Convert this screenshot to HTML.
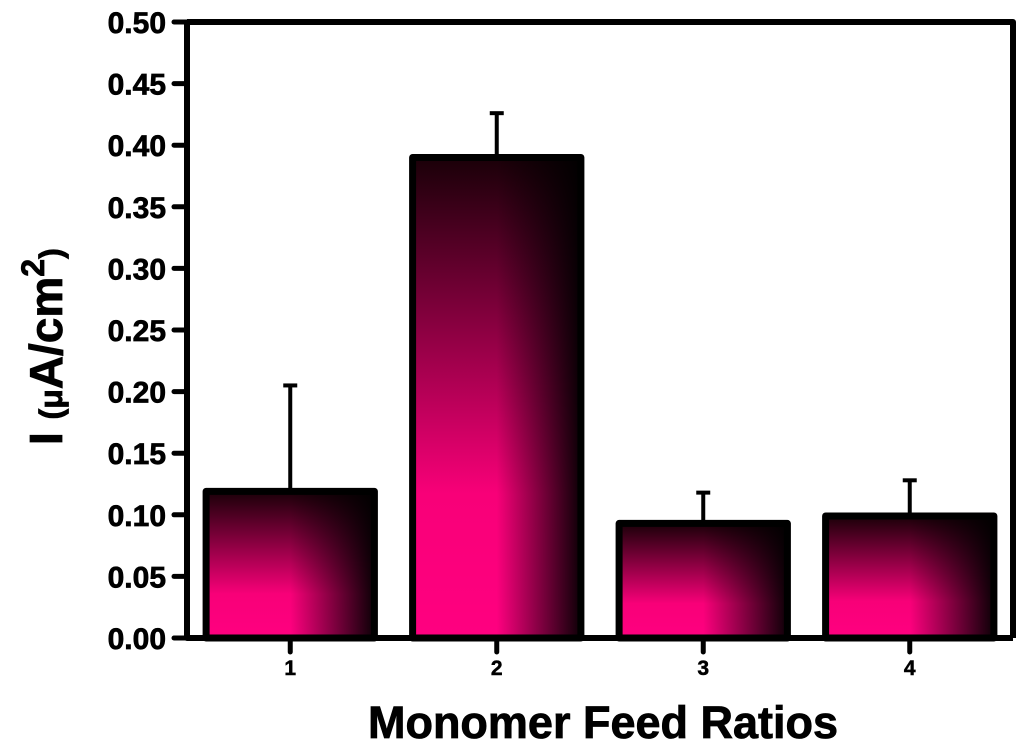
<!DOCTYPE html>
<html><head><meta charset="utf-8"><style>
html,body{margin:0;padding:0;background:#fff;}
svg{display:block;font-family:"Liberation Sans",Arial,sans-serif;font-weight:bold;}
</style></head><body>
<svg id="chart" width="1024" height="747" viewBox="0 0 1024 747" xmlns="http://www.w3.org/2000/svg">
<defs>
<linearGradient id="gv" x1="0" y1="1" x2="0" y2="0">
<stop offset="0" stop-color="#ff0080"/><stop offset="0.3" stop-color="#f80078"/><stop offset="1" stop-color="#1a0008"/>
</linearGradient>
<linearGradient id="gh" x1="0" y1="0" x2="1" y2="0">
<stop offset="0" stop-color="#000" stop-opacity="0"/><stop offset="0.5" stop-color="#000" stop-opacity="0"/><stop offset="1" stop-color="#000" stop-opacity="0.95"/>
</linearGradient>
</defs>
<g id="bars"></g>
<g id="axes"></g>
<text x="603" y="738" font-size="45" text-anchor="middle" stroke="#000" stroke-width="0.8">Monomer Feed Ratios</text>
<text transform="translate(62,445) rotate(-90)" font-size="46" stroke="#000" stroke-width="0.8"><tspan>I </tspan><tspan font-size="32">(μ</tspan><tspan>A/cm</tspan><tspan font-size="32" dy="-18">2</tspan><tspan font-size="32" dy="18">)</tspan></text>
</svg>
<script>
const categories = ["1","2","3","4"];
const values = [0.119, 0.390, 0.093, 0.099];
const errors = [0.086, 0.036, 0.025, 0.029];
const yTicks = [0,0.05,0.10,0.15,0.20,0.25,0.30,0.35,0.40,0.45,0.50];

const NS="http://www.w3.org/2000/svg";
const L=187,R=1013,T=22,B=638,yMax=0.5;
const y=v=>B-(v/yMax)*(B-T);
const band=(R-L)/categories.length;
const xc=i=>L+band*(i+0.5);
const bw=band*0.815;
function mk(tag,attrs,parent){const e=document.createElementNS(NS,tag);for(const k in attrs)e.setAttribute(k,attrs[k]);parent.appendChild(e);return e;}
const gb=document.getElementById('bars'), ga=document.getElementById('axes');
categories.forEach((c,i)=>{
  const x0=xc(i)-bw/2, top=y(values[i]), h=B-top;
  const eTop=y(values[i]+errors[i]);
  const el=mk('line',{x1:xc(i),x2:xc(i),y1:top,y2:eTop,stroke:'#000','stroke-width':4},gb);
  
  
  const cap=mk('line',{x1:xc(i)-7,x2:xc(i)+7,y1:eTop,y2:eTop,stroke:'#000','stroke-width':4},gb);
  
  
  const r1=mk('rect',{x:x0,y:top,width:bw,height:h,fill:'url(#gv)'},gb);
  
  
  const r2=mk('rect',{x:x0,y:top,width:bw,height:h,fill:'url(#gh)',stroke:'#000','stroke-width':7,'stroke-linejoin':'round'},gb);
  
  
  const t=mk('line',{x1:xc(i),x2:xc(i),y1:B,y2:B+14,stroke:'#000','stroke-width':5,'stroke-linecap':'round'},ga);
  
  
  const lb=mk('text',{x:xc(i),y:675,'font-size':21,'text-anchor':'middle',stroke:'#000','stroke-width':0.5},ga);
  lb.textContent=c;
  
  
});
yTicks.forEach(v=>{
  const t=mk('line',{x1:L-13,x2:L,y1:y(v),y2:y(v),stroke:'#000','stroke-width':5,'stroke-linecap':'round'},ga);
  
  
  const lb=mk('text',{x:166,y:y(v)+11,'font-size':30,'text-anchor':'end',stroke:'#000','stroke-width':0.7},ga);
  lb.textContent=v.toFixed(2);
  
  
});
const frame=mk('path',{d:`M${L} ${T} L${R} ${T} L${R} ${B} M${L} ${T} L${L} ${B} L${R} ${B}`,fill:'none',stroke:'#000','stroke-width':6,'stroke-linejoin':'round'},ga);


</script>
</body></html>
